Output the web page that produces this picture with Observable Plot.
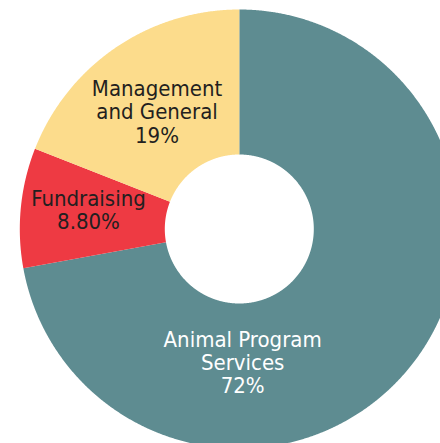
<!DOCTYPE html>
<html>
<head>
<meta charset="utf-8">
<script src="https://cdn.jsdelivr.net/npm/d3@7"></script>
<script src="https://cdn.jsdelivr.net/npm/@observablehq/plot@0.6"></script>
<style>
  html, body { margin: 0; padding: 0; background: #fff; overflow: hidden; }
</style>
</head>
<body>
<div id="chart"></div>
<script>
// Data
const categories = ["Animal Program Services", "Fundraising", "Management and General"];
const values = [72, 8.8, 19];
const labelLines = [["Animal Program", "Services", "72%"], ["Fundraising", "8.80%"], ["Management", "and General", "19%"]];
const colors = ["#5e8c91", "#ee3a43", "#fcdc8c"];
const textColors = ["#ffffff", "#231f20", "#231f20"];

// Layout (pixel-like units, centre at origin)
const R = 219.5, r = 74.5;
const labelOffsets = [[-110, 39], [-5, -5], [0, 4]];

const total = d3.sum(values);
const pie = d3.pie().sort(null).value(d => d)(values);

const arcPts = [];
pie.forEach((p, i) => {
  const n = Math.max(2, Math.ceil((p.endAngle - p.startAngle) / (Math.PI / 720)));
  for (let k = 0; k <= n; k++) {
    const a = p.startAngle + (p.endAngle - p.startAngle) * k / n;
    arcPts.push({cat: categories[i], ox: R * Math.sin(a), oy: R * Math.cos(a), ix: r * Math.sin(a), iy: r * Math.cos(a)});
  }
});

const labels = pie.map((p, i) => {
  const a = (p.startAngle + p.endAngle) / 2, m = (R + r) / 2;
  return {cat: categories[i], x: m * Math.sin(a), y: m * Math.cos(a), text: labelLines[i].join("\n"), dx: labelOffsets[i][0], dy: labelOffsets[i][1], color: textColors[i]};
});

const chart = Plot.plot({
  width: 440,
  height: 443,
  margin: 0,
  x: {domain: [-239.3, 200.7], axis: null},
  y: {domain: [-214, 229], axis: null},
  color: {domain: categories, range: colors},
  style: {background: "#fff", overflow: "hidden"},
  marks: [
    Plot.area(arcPts, {x1: "ox", y1: "oy", x2: "ix", y2: "iy", z: "cat", fill: "cat", clip: true}),
    ...labels.map(l => Plot.text([l], {
      x: "x", y: "y", text: "text", dx: l.dx, dy: l.dy, fill: l.color,
      fontSize: 22, lineHeight: 1.05, lineAnchor: "middle", textAnchor: "middle",
      fontFamily: "'Liberation Sans Narrow', 'DejaVu Sans Condensed', 'Roboto Condensed', sans-serif",
      fontStretch: "condensed"
    }))
  ]
});
document.getElementById("chart").appendChild(chart);
</script>
</body>
</html>
